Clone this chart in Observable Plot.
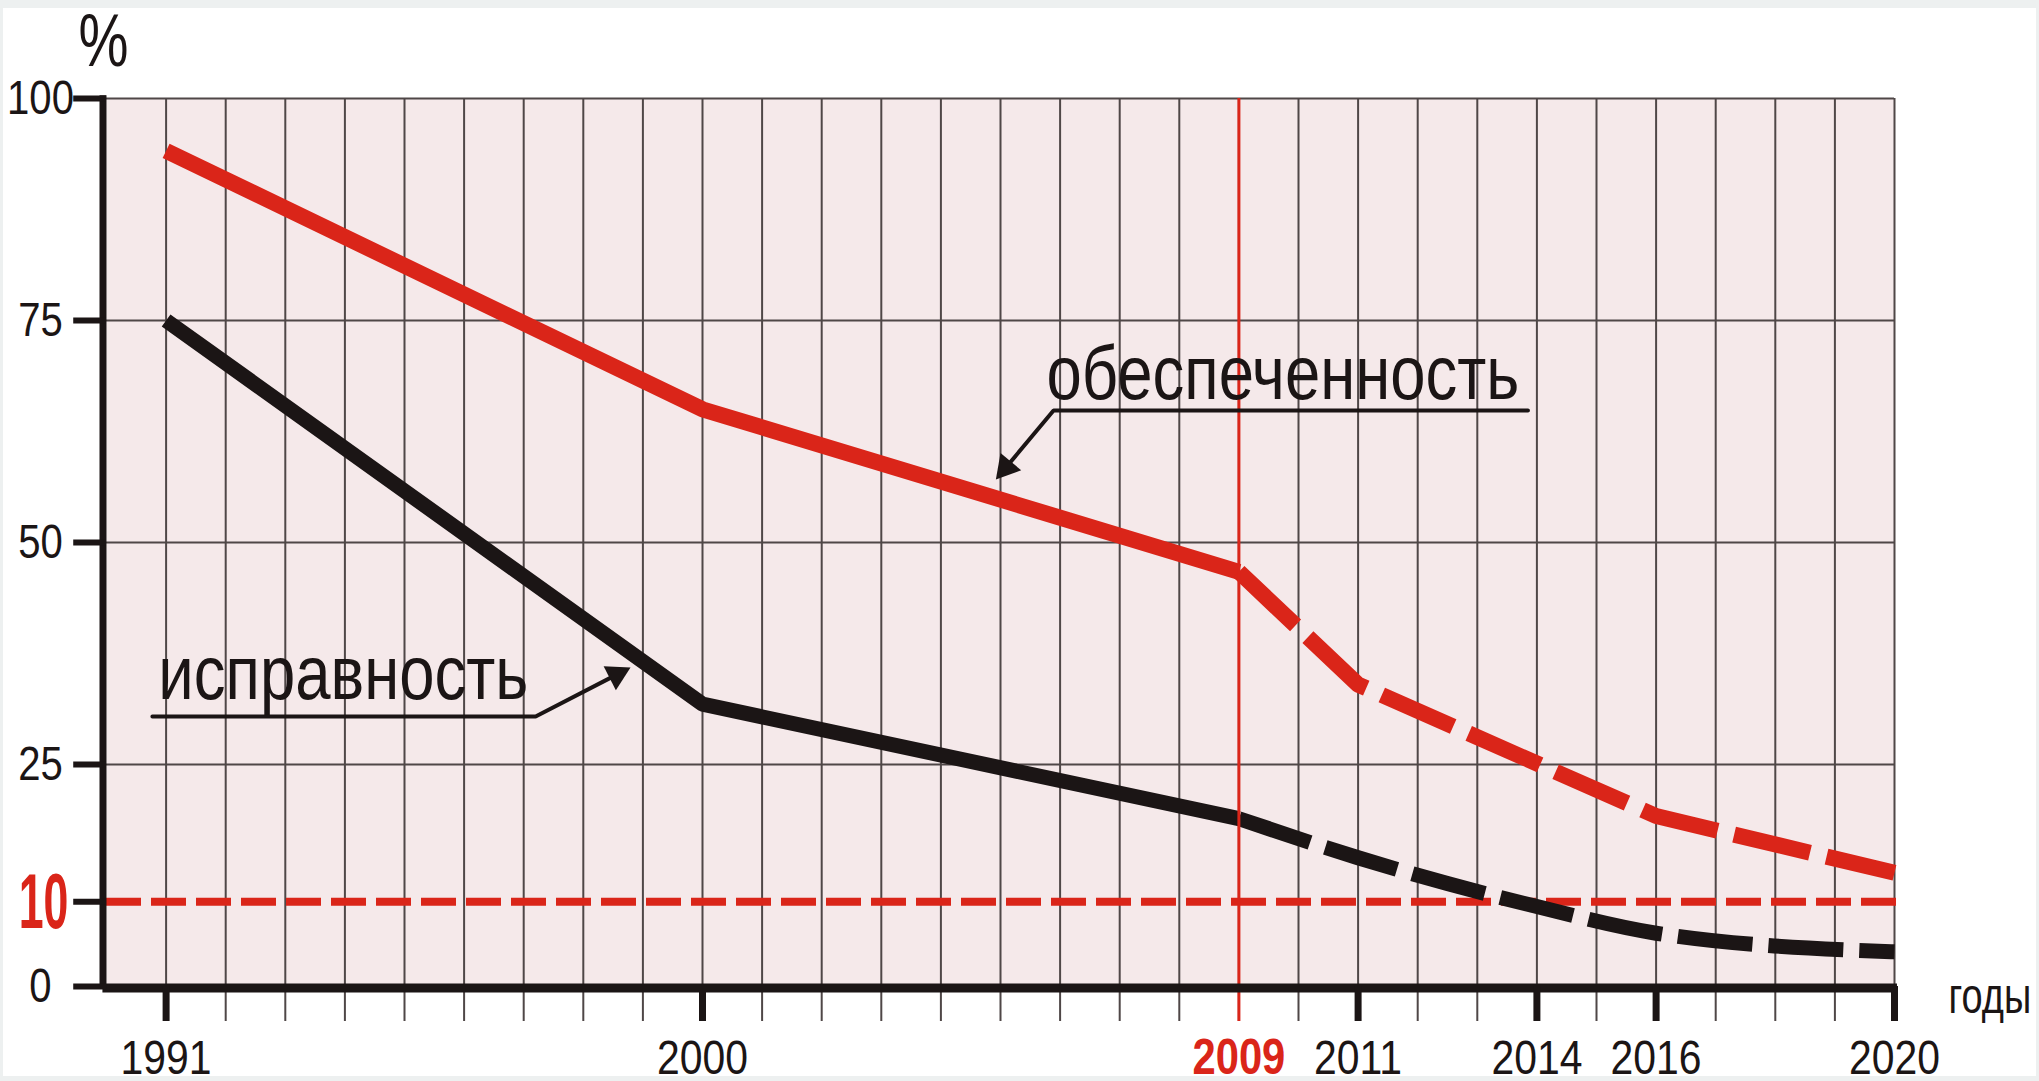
<!DOCTYPE html>
<html><head><meta charset="utf-8">
<script src="https://cdn.jsdelivr.net/npm/d3@7"></script>
<script src="https://cdn.jsdelivr.net/npm/@observablehq/plot@0.6"></script>
<style>
html,body{margin:0;padding:0;background:#edf0f0;}
#card{position:absolute;left:3px;top:8px;width:2033px;height:1068px;background:#fff;overflow:visible;}
</style></head><body><div id="card"></div>
<script>
// ---- data ----
const supplyYears = [1991, 2000, 2009];
const supplyValues = [94.1, 65.0, 46.7];
const supplyForecastYears = [2009, 2011, 2016, 2020];
const supplyForecastValues = [46.7, 34.0, 19.2, 12.8];
const serviceYears = [1991, 2000, 2009];
const serviceValues = [75.0, 31.8, 18.9];
const serviceForecastYears = [2009, 2011, 2014, 2016, 2020];
const serviceForecastValues = [18.9, 14.5, 9.0, 6.0, 3.9];
const xTickYears = [1991, 2000, 2011, 2014, 2016, 2020];
const highlightYear = 2009;
const yTickValues = [0, 25, 50, 75, 100];
const threshold = 10;
const supplyLabel = "обеспеченность";
const serviceLabel = "исправность";
const xUnit = "годы";
const yUnit = "%";
// annotation anchors (year, percent)
const supplyLabelPos = [2005.77, 66.2];
const supplyPointer = [[2013.85, 64.86], [2005.89, 64.86], [2005.09, 58.44]];
const supplyHead = [2005.09, 58.44];
const serviceLabelPos = [1990.87, 32.4];
const servicePointer = [[1990.77, 30.4], [1997.2, 30.4], [1998.56, 35.12]];
const serviceHead = [1998.56, 35.12];

const FONT = '"Liberation Sans Narrow","Arial Narrow","Liberation Sans",Arial,sans-serif';
const RED = "#da2519", INK = "#1b1515", GRID = "#4f4747", PAPER = "#f5e9ea";
const rows = (xs, vs) => xs.map((x, i) => ({x, v: vs[i]}));
const pts = (a) => a.map(([x, v]) => ({x, v}));
const below = -3.94; // tick length under the axis, in percent units

const chart = Plot.plot({
  width: 2033, height: 1068,
  marginLeft: 103, marginRight: 142, marginTop: 90, marginBottom: 90,
  x: {domain: [1990, 2020], axis: null},
  y: {domain: [0, 100], axis: null},
  style: {background: "transparent", overflow: "visible", fontFamily: FONT},
  marks: [
    Plot.frame({fill: PAPER, stroke: null}),
    Plot.ruleX(d3.range(1991, 2021), {y1: below, y2: 100, stroke: GRID, strokeWidth: 2}),
    Plot.ruleY([25, 50, 75, 100], {x1: 1990, x2: 2020, stroke: GRID, strokeWidth: 2}),
    Plot.ruleY([threshold], {x1: 1990, x2: 2020.15, dy: 4, stroke: RED, strokeWidth: 8, strokeDasharray: "35 10"}),
    Plot.line(rows(supplyYears, supplyValues), {x: "x", y: "v", stroke: RED, strokeWidth: 16, strokeLinejoin: "miter", strokeLinecap: "butt"}),
    Plot.line(rows(supplyForecastYears, supplyForecastValues), {x: "x", y: "v", stroke: RED, strokeWidth: 16, strokeLinejoin: "round", strokeLinecap: "butt", strokeDasharray: "78 17"}),
    Plot.line(rows(serviceYears, serviceValues), {x: "x", y: "v", stroke: INK, strokeWidth: 15, strokeLinejoin: "miter", strokeLinecap: "butt"}),
    Plot.line(rows(serviceForecastYears, serviceForecastValues), {x: "x", y: "v", curve: "monotone-x", stroke: INK, strokeWidth: 15, strokeLinecap: "butt", strokeDasharray: "75 16"}),
    Plot.ruleX([highlightYear], {y1: below, y2: 100, stroke: RED, strokeWidth: 3}),
    // axes
    Plot.ruleY([0], {x1: 1989.94, x2: 2020.05, dy: 1.5, stroke: INK, strokeWidth: 9}),
    Plot.ruleX([1990], {y1: -0.3, y2: 100.3, dx: -3.5, stroke: INK, strokeWidth: 7}),
    Plot.ruleX(xTickYears, {y1: 0, y2: below, stroke: INK, strokeWidth: 7}),
    Plot.ruleY(yTickValues, {x1: 1989.45, x2: 1990, stroke: INK, strokeWidth: 6}),
    Plot.ruleY([threshold], {x1: 1989.45, x2: 1990, dy: 4, stroke: INK, strokeWidth: 6}),
    Plot.text(xTickYears, {x: d => d, y: 0, text: d => String(d), dy: 87, lineAnchor: "bottom", fontSize: 49, fill: INK}),
    Plot.text([highlightYear], {x: d => d, y: 0, text: d => String(d), dy: 87, lineAnchor: "bottom", fontSize: 50, fontWeight: "bold", fill: RED}),
    Plot.text(yTickValues, {x: () => 1990, y: d => d, text: d => String(d), dx: -66, textAnchor: "middle", fontSize: 48, fill: INK}),
    Plot.text([threshold], {x: () => 1990, y: d => d, text: d => String(d), dx: -63, dy: 6, textAnchor: "middle", fontSize: 77, fontWeight: "bold", fill: RED}),
    Plot.text([yUnit], {x: 1990, y: 100, text: d => d, dx: -3, dy: -33, lineAnchor: "bottom", textAnchor: "middle", fontSize: 74, fill: INK}),
    Plot.text([xUnit], {x: 2020, y: 0, text: d => d, dx: 54, dy: 26, lineAnchor: "bottom", textAnchor: "start", fontSize: 50, fill: INK}),
    // annotations
    Plot.text([supplyLabel], {x: supplyLabelPos[0], y: supplyLabelPos[1], text: d => d, textAnchor: "start", lineAnchor: "bottom", fontSize: 76, fill: INK}),
    Plot.line(pts(supplyPointer), {x: "x", y: "v", stroke: INK, strokeWidth: 4, strokeLinejoin: "miter"}),
    Plot.dot([supplyHead], {x: d => d[0], y: d => d[1], symbol: "triangle", r: 10, rotate: 220, fill: INK, stroke: null}),
    Plot.text([serviceLabel], {x: serviceLabelPos[0], y: serviceLabelPos[1], text: d => d, textAnchor: "start", lineAnchor: "bottom", fontSize: 76, fill: INK}),
    Plot.line(pts(servicePointer), {x: "x", y: "v", stroke: INK, strokeWidth: 4, strokeLinejoin: "miter"}),
    Plot.dot([serviceHead], {x: d => d[0], y: d => d[1], symbol: "triangle", r: 10, rotate: 63, fill: INK, stroke: null})
  ]
});
document.getElementById("card").appendChild(chart);

// condense the lettering (narrow face of the original), scaling each text around its own anchor
const narrow = {"10": 0.58, "%": 0.76, "годы": 0.76};
const num = (v) => { const n = parseFloat(v); return Number.isFinite(n) ? n : 0; };
d3.select(chart).selectAll("text").each(function() {
  const s = narrow[this.textContent] ?? 0.835;
  const x = num(this.getAttribute("x")), y = num(this.getAttribute("y"));
  const t = this.getAttribute("transform") || "";
  this.setAttribute("transform", `${t} translate(${x},${y}) scale(${s},1) translate(${-x},${-y})`.trim());
});
</script></body></html>
